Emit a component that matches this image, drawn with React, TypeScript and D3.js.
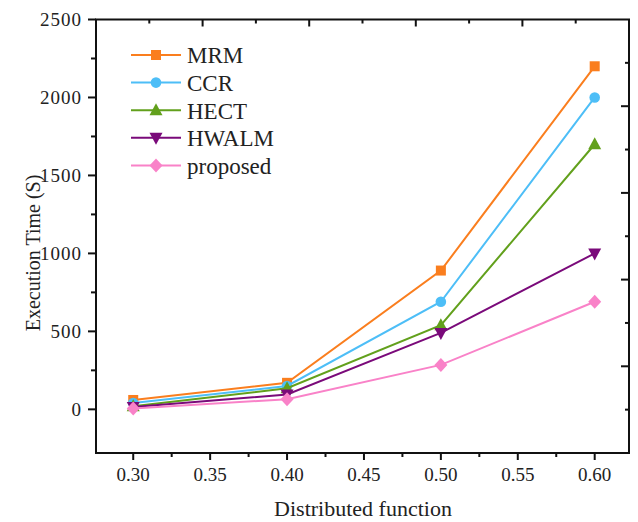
import React from "react";
import * as d3 from "d3";

const xValues = [0.3, 0.4, 0.5, 0.6];
const seriesNames = ["MRM", "CCR", "HECT", "HWALM", "proposed"];
const mrm = [60, 170, 890, 2200];
const ccr = [40, 150, 690, 2000];
const hect = [20, 135, 540, 1700];
const hwalm = [15, 95, 490, 1000];
const proposed = [5, 65, 285, 690];
const seriesColors = ["#FA7E1E", "#4DBEF7", "#62A01C", "#7A0A7A", "#F982C8"];
const seriesShapes = ["square", "circle", "triangle", "triangleDown", "diamond"];
const xTicks = [0.3, 0.35, 0.4, 0.45, 0.5, 0.55, 0.6];
const yTicks = [0, 500, 1000, 1500, 2000, 2500];

const W = 638;
const H = 522;
const left = 96;
const right = 629;
const top = 19.5;
const bottom = 453;
const font = "'Liberation Serif', 'Times New Roman', serif";

const Marker = ({ shape, x, y, color }: { shape: string; x: number; y: number; color: string }) => {
  if (shape === "square") return <rect x={x - 5} y={y - 5} width={10} height={10} fill={color} />;
  if (shape === "circle") return <circle cx={x} cy={y} r={5.3} fill={color} />;
  if (shape === "triangle")
    return <path d={`M${x},${y - 7}L${x + 6.5},${y + 5}L${x - 6.5},${y + 5}Z`} fill={color} />;
  if (shape === "triangleDown")
    return <path d={`M${x},${y + 7}L${x + 6.5},${y - 5}L${x - 6.5},${y - 5}Z`} fill={color} />;
  return <path d={`M${x},${y - 7}L${x + 6.5},${y}L${x},${y + 7}L${x - 6.5},${y}Z`} fill={color} />;
};

export default function App() {
  const x = d3.scaleLinear().domain([0.2758, 0.6223]).range([left, right]);
  const y = d3.scaleLinear().domain([-280, 2500]).range([bottom, top]);
  const series = [mrm, ccr, hect, hwalm, proposed];
  const line = d3
    .line<number>()
    .x((_, i) => x(xValues[i]))
    .y((d) => y(d));

  const xMinor = d3.range(0.3, 0.62, 0.025).filter((v) => x(v) <= right);
  const yMinor = d3.range(0, 2501, 250);
  const divisions = d3.range(1, 10);

  return (
    <svg width={W} height={H} style={{ position: "absolute", left: 0, top: 0 }} fontFamily={font}>
      <rect width={W} height={H} fill="white" />
      {/* series */}
      {series.map((s, k) => (
        <g key={seriesNames[k]}>
          <path d={line(s) || ""} fill="none" stroke={seriesColors[k]} strokeWidth={2} />
          {s.map((v, i) => (
            <Marker key={i} shape={seriesShapes[k]} x={x(xValues[i])} y={y(v)} color={seriesColors[k]} />
          ))}
        </g>
      ))}
      {/* frame */}
      <rect x={left} y={top} width={right - left} height={bottom - top} fill="none" stroke="#111" strokeWidth={2} />
      {/* bottom axis */}
      {xMinor.map((v, i) => (
        <line key={i} x1={x(v)} x2={x(v)} y1={bottom} y2={bottom + (i % 2 === 0 ? 7 : 4)} stroke="#111" strokeWidth={2} />
      ))}
      {xTicks.map((v) => (
        <text key={v} x={x(v)} y={481} textAnchor="middle" fontSize={19} fill="#222">
          {d3.format(".2f")(v)}
        </text>
      ))}
      {/* left axis */}
      {yMinor.map((v, i) => (
        <line key={v} x1={left} x2={left - (i % 2 === 0 ? 8 : 5)} y1={y(v)} y2={y(v)} stroke="#111" strokeWidth={2} />
      ))}
      {yTicks.map((v) => (
        <text key={v} x={82} y={y(v) + 6.5} textAnchor="end" fontSize={19} letterSpacing={1} fill="#222">
          {v}
        </text>
      ))}
      {/* top and right axes (inward ticks) */}
      {divisions.map((d) => {
        const tx = left + ((right - left) * d) / 10;
        const ty = top + ((bottom - top) * d) / 10;
        const major = d % 2 === 0;
        return (
          <g key={d}>
            <line x1={tx} x2={tx} y1={top} y2={top + (major ? 7 : 4)} stroke="#111" strokeWidth={2} />
            <line x1={right} x2={right - (major ? 8 : 4)} y1={ty} y2={ty} stroke="#111" strokeWidth={2} />
          </g>
        );
      })}
      {/* axis titles */}
      <text x={363} y={516} textAnchor="middle" fontSize={22} fill="#222">
        Distributed function
      </text>
      <text transform="translate(40,253) rotate(-90)" textAnchor="middle" fontSize={20} fill="#222">
        Execution Time (S)
      </text>
      {/* legend */}
      {seriesNames.map((name, k) => {
        const cy = 55 + k * 27.6;
        return (
          <g key={name}>
            <line x1={131} x2={181} y1={cy} y2={cy} stroke={seriesColors[k]} strokeWidth={2} />
            <Marker shape={seriesShapes[k]} x={156} y={cy} color={seriesColors[k]} />
            <text x={187} y={cy + 8.3} fontSize={23} fill="#222">
              {name}
            </text>
          </g>
        );
      })}
    </svg>
  );
}
